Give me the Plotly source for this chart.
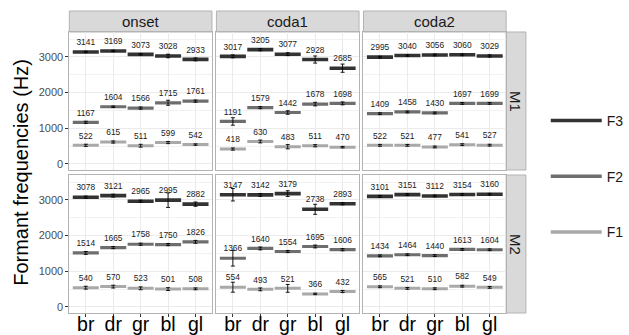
import plotly.graph_objects as go
from plotly.subplots import make_subplots

# ---------------- data ----------------
categories = ["br", "dr", "gr", "bl", "gl"]
positions = ["onset", "coda1", "coda2"]
speakers = ["M1", "M2"]
formants = ["F3", "F2", "F1"]

# mean formant values (Hz)
F3_M1_onset = [3141, 3169, 3073, 3028, 2933]
F3_M1_coda1 = [3017, 3205, 3077, 2928, 2685]
F3_M1_coda2 = [2995, 3040, 3056, 3060, 3029]
F3_M2_onset = [3078, 3121, 2965, 2995, 2882]
F3_M2_coda1 = [3147, 3142, 3179, 2738, 2893]
F3_M2_coda2 = [3101, 3151, 3112, 3154, 3160]

F2_M1_onset = [1167, 1604, 1566, 1715, 1761]
F2_M1_coda1 = [1191, 1579, 1442, 1678, 1698]
F2_M1_coda2 = [1409, 1458, 1430, 1697, 1699]
F2_M2_onset = [1514, 1665, 1758, 1750, 1826]
F2_M2_coda1 = [1366, 1640, 1554, 1695, 1606]
F2_M2_coda2 = [1434, 1464, 1440, 1613, 1604]

F1_M1_onset = [522, 615, 511, 599, 542]
F1_M1_coda1 = [418, 630, 483, 511, 470]
F1_M1_coda2 = [522, 521, 477, 541, 527]
F1_M2_onset = [540, 570, 523, 501, 508]
F1_M2_coda1 = [554, 493, 521, 366, 432]
F1_M2_coda2 = [565, 521, 510, 582, 549]

# error half-widths (Hz), estimated
E3_M1_onset = [20, 20, 20, 50, 40]
E3_M1_coda1 = [40, 30, 40, 100, 115]
E3_M1_coda2 = [25, 20, 25, 25, 30]
E3_M2_onset = [30, 40, 30, 205, 60]
E3_M2_coda1 = [175, 40, 80, 140, 30]
E3_M2_coda2 = [25, 25, 25, 25, 25]

E2_M1_onset = [30, 20, 30, 70, 30]
E2_M1_coda1 = [105, 30, 50, 50, 40]
E2_M1_coda2 = [25, 25, 25, 25, 25]
E2_M2_onset = [40, 30, 30, 30, 40]
E2_M2_coda1 = [220, 40, 30, 40, 30]
E2_M2_coda2 = [25, 25, 25, 25, 25]

E1_M1_onset = [30, 30, 40, 30, 20]
E1_M1_coda1 = [30, 40, 60, 30, 20]
E1_M1_coda2 = [25, 25, 25, 25, 25]
E1_M2_onset = [40, 40, 40, 40, 25]
E1_M2_coda1 = [140, 40, 110, 20, 30]
E1_M2_coda2 = [25, 25, 25, 25, 25]

values = {
    "F3": {"M1": [F3_M1_onset, F3_M1_coda1, F3_M1_coda2], "M2": [F3_M2_onset, F3_M2_coda1, F3_M2_coda2]},
    "F2": {"M1": [F2_M1_onset, F2_M1_coda1, F2_M1_coda2], "M2": [F2_M2_onset, F2_M2_coda1, F2_M2_coda2]},
    "F1": {"M1": [F1_M1_onset, F1_M1_coda1, F1_M1_coda2], "M2": [F1_M2_onset, F1_M2_coda1, F1_M2_coda2]},
}
errors = {
    "F3": {"M1": [E3_M1_onset, E3_M1_coda1, E3_M1_coda2], "M2": [E3_M2_onset, E3_M2_coda1, E3_M2_coda2]},
    "F2": {"M1": [E2_M1_onset, E2_M1_coda1, E2_M1_coda2], "M2": [E2_M2_onset, E2_M2_coda1, E2_M2_coda2]},
    "F1": {"M1": [E1_M1_onset, E1_M1_coda1, E1_M1_coda2], "M2": [E1_M2_onset, E1_M2_coda1, E1_M2_coda2]},
}

# ---------------- style ----------------
W, H = 629, 335
FONT = "Liberation Sans, Arial, sans-serif"
colors = {"F3": "#333333", "F2": "#6E6E6E", "F1": "#A9A9A9"}
thick = {"F3": 3.6, "F2": 3.2, "F1": 3.0}
LABEL_OFFSET = 250  # Hz above the bar

col_px = [(70, 214), (218.5, 362.5), (367, 511)]
row_px = [(32, 170), (175, 313)]


def fx(p):
    return p / W


def fy(p):
    return 1 - p / H


fig = make_subplots(rows=2, cols=3)

for r, spk in enumerate(speakers):
    for c, pos in enumerate(positions):
        for f in formants:
            vals = values[f][spk][c]
            fig.add_trace(go.Scatter(
                x=categories, y=vals, mode="markers",
                marker=dict(symbol="line-ew", size=18.6, color=colors[f],
                            line=dict(width=thick[f], color=colors[f])),
                showlegend=False, hoverinfo="skip"), row=r + 1, col=c + 1)
        for f in formants:
            vals = values[f][spk][c]
            fig.add_trace(go.Scatter(
                x=categories, y=vals, mode="markers",
                marker=dict(size=2, color="rgba(0,0,0,0)"),
                error_y=dict(type="data", array=errors[f][spk][c], color="#000000",
                             thickness=0.9, width=2),
                showlegend=False, hoverinfo="skip"), row=r + 1, col=c + 1)
        for f in formants:
            vals = values[f][spk][c]
            fig.add_trace(go.Scatter(
                x=categories, y=[v + LABEL_OFFSET for v in vals], mode="text",
                text=[str(v) for v in vals], textposition="middle center",
                textfont=dict(size=8.4, color="#1A1A1A", family=FONT),
                showlegend=False, hoverinfo="skip"), row=r + 1, col=c + 1)

# legend entries
for f in formants:
    fig.add_trace(go.Scatter(x=[None], y=[None], mode="lines", name=f, legendgroup=f,
                             line=dict(color=colors[f], width=3.5)), row=1, col=1)

for r in range(2):
    for c in range(3):
        i = r * 3 + c + 1
        xa = "xaxis" if i == 1 else f"xaxis{i}"
        ya = "yaxis" if i == 1 else f"yaxis{i}"
        fig.layout[xa].update(
            domain=[fx(col_px[c][0]), fx(col_px[c][1])],
            type="category", categoryorder="array", categoryarray=categories,
            range=[-0.6, 4.6], showgrid=True, gridcolor="#EBEBEB", gridwidth=1,
            showline=True, mirror=True, linecolor="#B3B3B3", linewidth=1,
            zeroline=False,
            ticks="outside" if r == 1 else "", ticklen=3, tickcolor="#333333",
            showticklabels=(r == 1), ticklabeloverflow="allow", ticklabelstandoff=-9,
            tickfont=dict(size=19.5, color="#000000", family=FONT),
            automargin=False)
        fig.layout[ya].update(
            domain=[fy(row_px[r][1]), fy(row_px[r][0])],
            range=[-170, 3700], tickvals=[0, 1000, 2000, 3000],
            showgrid=True, gridcolor="#EBEBEB", gridwidth=1,
            minor=dict(dtick=500, tick0=0, showgrid=True, gridcolor="#F2F2F2", gridwidth=0.6),
            showline=True, mirror=True, linecolor="#B3B3B3", linewidth=1,
            zeroline=False,
            ticks="outside" if c == 0 else "", ticklen=3, tickcolor="#333333",
            showticklabels=(c == 0), ticklabeloverflow="allow",
            tickfont=dict(size=11, color="#4D4D4D", family=FONT),
            automargin=False)

shapes = []
annotations = []
# top strips
for c, pos in enumerate(positions):
    shapes.append(dict(type="rect", xref="paper", yref="paper",
                       x0=fx(col_px[c][0]), x1=fx(col_px[c][1]), y0=fy(32), y1=fy(11),
                       fillcolor="#D9D9D9", line=dict(color="#B3B3B3", width=1), layer="below"))
    annotations.append(dict(text=pos, xref="paper", yref="paper",
                            x=fx((col_px[c][0] + col_px[c][1]) / 2), y=fy(21.5),
                            showarrow=False, xanchor="center", yanchor="middle",
                            font=dict(size=15, color="#1A1A1A", family=FONT)))
# right strips
for r, spk in enumerate(speakers):
    shapes.append(dict(type="rect", xref="paper", yref="paper",
                       x0=fx(511), x1=fx(531), y0=fy(row_px[r][1]), y1=fy(row_px[r][0]),
                       fillcolor="#D9D9D9", line=dict(color="#B3B3B3", width=1), layer="below"))
    annotations.append(dict(text=spk, xref="paper", yref="paper",
                            x=fx(521), y=fy((row_px[r][0] + row_px[r][1]) / 2),
                            showarrow=False, xanchor="center", yanchor="middle", textangle=90,
                            font=dict(size=15, color="#1A1A1A", family=FONT)))
# y-axis title
annotations.append(dict(text="Formant frequencies (Hz)", xref="paper", yref="paper",
                        x=fx(21), y=fy(172), showarrow=False, textangle=-90,
                        xanchor="center", yanchor="middle",
                        font=dict(size=20, color="#000000", family=FONT)))

fig.update_layout(
    width=W, height=H, autosize=False,
    margin=dict(l=0, r=0, t=0, b=0),
    paper_bgcolor="white", plot_bgcolor="white",
    font=dict(family=FONT),
    shapes=shapes, annotations=annotations,
    showlegend=True,
    legend=dict(x=fx(551), y=fy(105), xanchor="left", yanchor="top",
                tracegroupgap=34.5, itemwidth=51, bgcolor="rgba(0,0,0,0)",
                font=dict(size=14, color="#1A1A1A", family=FONT)),
)

fig.write_html("out.html", config={"displayModeBar": False},
               post_script="document.body.style.margin='0';document.body.style.padding='0';")
